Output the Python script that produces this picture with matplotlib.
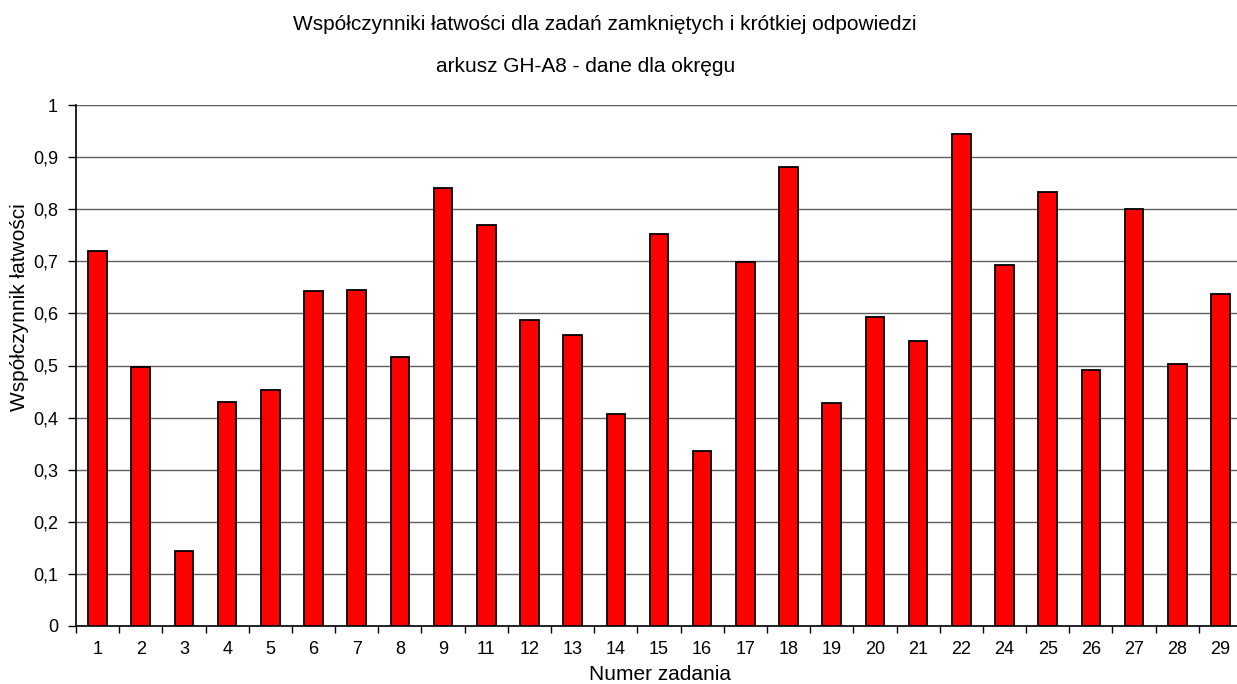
import matplotlib
matplotlib.use("Agg")
import matplotlib.pyplot as plt
import numpy as np

plt.rcParams['font.family'] = ['Liberation Sans', 'DejaVu Sans']

tasks = ['1', '2', '3', '4', '5', '6', '7', '8', '9', '11', '12', '13', '14', '15',
         '16', '17', '18', '19', '20', '21', '22', '24', '25', '26', '27', '28', '29']
values = [0.720, 0.497, 0.144, 0.430, 0.453, 0.643, 0.645, 0.516, 0.841, 0.770,
          0.587, 0.559, 0.407, 0.752, 0.336, 0.699, 0.881, 0.428, 0.593, 0.547,
          0.944, 0.693, 0.833, 0.491, 0.800, 0.503, 0.637]
yticks = [0, 0.1, 0.2, 0.3, 0.4, 0.5, 0.6, 0.7, 0.8, 0.9, 1.0]
ytick_labels = ['0', '0,1', '0,2', '0,3', '0,4', '0,5', '0,6', '0,7', '0,8', '0,9', '1']

W, H = 1237, 684
fig = plt.figure(figsize=(W / 100, H / 100), dpi=100)
ax = fig.add_axes([76 / W, 1 - 626 / H, 1166 / W, 521 / H])

x = np.arange(len(tasks))
ax.set_axisbelow(True)
ax.yaxis.grid(True, color='#606060', linewidth=1.0)
ax.bar(x, values, width=0.43, color='#ff0000', edgecolor='black', linewidth=1.3, zorder=3)

ax.set_xlim(-0.5, len(tasks) - 0.5)
ax.set_ylim(0, 1)
ax.set_yticks(yticks)
ax.set_yticklabels(ytick_labels, fontsize=13)
ax.set_xticks(x)
ax.set_xticklabels(tasks, fontsize=13)
ax.tick_params(axis='x', length=0, pad=11)
ax.set_xticks(np.arange(len(tasks) + 1) - 0.5, minor=True)
ax.tick_params(axis='x', which='minor', length=5, width=1, direction='out')
ax.tick_params(axis='y', length=6, width=1, direction='out', pad=7)

for s in ['top', 'right']:
    ax.spines[s].set_visible(False)
for s in ['left', 'bottom']:
    ax.spines[s].set_linewidth(1.2)

fig.text(660 / W, 1 - 680 / H, 'Numer zadania', ha='center', va='baseline', fontsize=15)
fig.text(20 / W, 1 - 307 / H, 'Współczynnik łatwości', ha='center', va='center',
         rotation=90, fontsize=15)

fig.text(605 / W, 1 - 25 / H, 'Współczynniki łatwości dla zadań zamkniętych i krótkiej odpowiedzi',
         ha='center', va='center', fontsize=15)
fig.text(586 / W, 1 - 66 / H, 'arkusz GH-A8 - dane dla okręgu',
         ha='center', va='center', fontsize=15)

fig.savefig('out.png', dpi=100)
